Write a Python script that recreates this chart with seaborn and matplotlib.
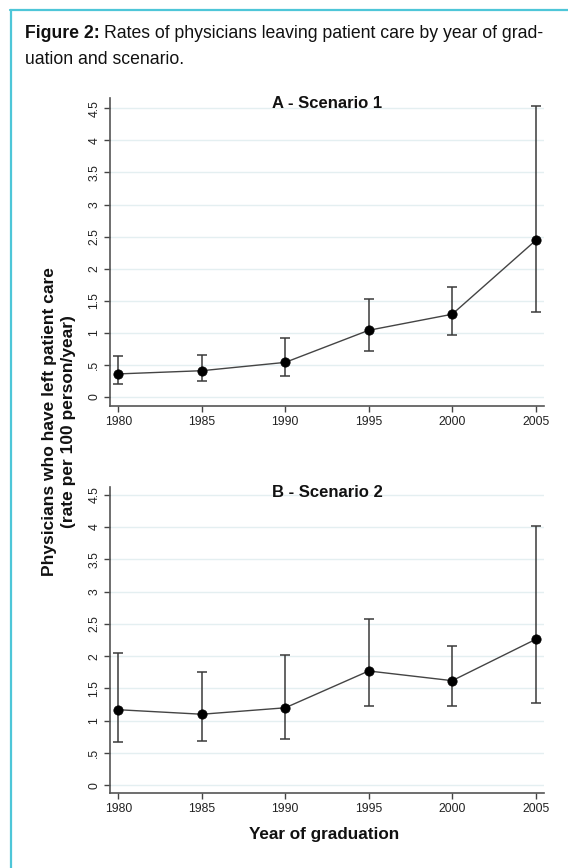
#!/usr/bin/env python3
"""
Rates of physicians leaving patient care by year of graduation and scenario.
"""

import matplotlib
matplotlib.use("Agg")
import matplotlib.pyplot as plt
from matplotlib.lines import Line2D
import pandas as pd
import seaborn as sns

# Dati
years = [1980, 1985, 1990, 1995, 2000, 2005]

rate_s1 = [0.36, 0.41, 0.54, 1.04, 1.29, 2.44]
low_s1 = [0.20, 0.25, 0.32, 0.71, 0.96, 1.32]
high_s1 = [0.64, 0.65, 0.92, 1.53, 1.72, 4.54]

rate_s2 = [1.17, 1.10, 1.20, 1.77, 1.62, 2.26]
low_s2 = [0.67, 0.69, 0.72, 1.22, 1.23, 1.28]
high_s2 = [2.05, 1.75, 2.01, 2.57, 2.16, 4.01]

panel_titles = ["A - Scenario 1", "B - Scenario 2"]
y_ticks = [0, 0.5, 1, 1.5, 2, 2.5, 3, 3.5, 4, 4.5]
y_ticklabels = ["0", ".5", "1", "1.5", "2", "2.5", "3", "3.5", "4", "4.5"]

sns.set_theme(style="white")
plt.rcParams['font.family'] = ['Liberation Sans', 'DejaVu Sans']

W, H = 568, 868
fig = plt.figure(figsize=(W / 100, H / 100), dpi=100)


def fx(px):
    return px / W


def fy(py):
    return 1 - py / H


def draw_panel(ax, rate, low, high, title):
    df = pd.DataFrame({"year": years, "rate": rate, "low": low, "high": high})
    # barre di errore (IC)
    ax.errorbar(df["year"], df["rate"],
                yerr=[df["rate"] - df["low"], df["high"] - df["rate"]],
                fmt="none", ecolor="#3a3a3a", elinewidth=1.1,
                capsize=3.5, capthick=1.1, zorder=2)
    sns.lineplot(data=df, x="year", y="rate", ax=ax, color="#444444",
                 linewidth=1.0, zorder=3)
    sns.scatterplot(data=df, x="year", y="rate", ax=ax, color="black",
                    s=45, edgecolor="black", zorder=4)

    ax.set_xlim(1979.5, 2005.5)
    ax.set_xticks(years)
    ax.set_yticks(y_ticks)
    ax.set_yticklabels(y_ticklabels, rotation=90, va="center")
    ax.tick_params(axis="both", which="both", direction="out", length=4,
                   width=1, color="#444444", labelsize=8.8, labelcolor="#222222",
                   pad=3, bottom=True, left=True)
    ax.set_xlabel("")
    ax.set_ylabel("")
    for y in y_ticks:
        ax.axhline(y, color="#e4eff1", linewidth=1.0, zorder=0)
    for side in ["top", "right"]:
        ax.spines[side].set_visible(False)
    for side in ["left", "bottom"]:
        ax.spines[side].set_color("#555555")
        ax.spines[side].set_linewidth(1.2)
    ax.text(0.5, 0.982, title, transform=ax.transAxes, ha="center",
            va="center", fontsize=12, fontweight="bold", color="#111111")


ax1 = fig.add_axes([fx(110), fy(406), fx(544 - 110), (406 - 98) / H])
ax1.set_ylim(-0.14, 4.66)
draw_panel(ax1, rate_s1, low_s1, high_s1, panel_titles[0])

ax2 = fig.add_axes([fx(110), fy(793), fx(544 - 110), (793 - 487) / H])
ax2.set_ylim(-0.12, 4.62)
draw_panel(ax2, rate_s2, low_s2, high_s2, panel_titles[1])

# etichette degli assi comuni
fig.text(fx(59), fy(422),
         "Physicians who have left patient care\n(rate per 100 person/year)",
         rotation=90, ha="center", va="center", multialignment="center",
         fontsize=12.5, fontweight="bold", color="#111111", linespacing=1.3)
fig.text(fx(324), fy(835), "Year of graduation", ha="center", va="center",
         fontsize=12.3, fontweight="bold", color="#111111")

# didascalia
renderer = fig.canvas.get_renderer()
t_bold = fig.text(fx(25), fy(34), "Figure 2:", ha="left", va="center",
                  fontsize=12.7, fontweight="bold", color="#111111")
bb = t_bold.get_window_extent(renderer=renderer)
fig.text(bb.x1 / W + fx(4), fy(34),
         "Rates of physicians leaving patient care by year of grad-",
         ha="left", va="center", fontsize=12.7, color="#111111")
fig.text(fx(25), fy(60), "uation and scenario.", ha="left", va="center",
         fontsize=12.7, color="#111111")

# bordo del riquadro (alto e sinistra)
fig.add_artist(Line2D([fx(10), 1.0], [fy(9.5), fy(9.5)],
                      transform=fig.transFigure, color="#4ec6d8", linewidth=1.6))
fig.add_artist(Line2D([fx(10.5), fx(10.5)], [fy(9.5), 0.0],
                      transform=fig.transFigure, color="#4ec6d8", linewidth=1.6))

fig.savefig("out.png", dpi=100)
plt.close(fig)
